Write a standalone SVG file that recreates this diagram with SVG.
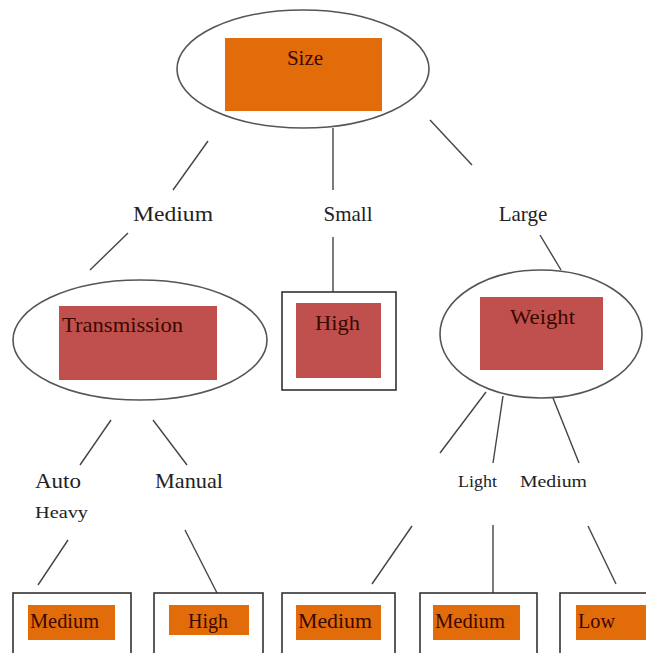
<svg xmlns="http://www.w3.org/2000/svg" width="646" height="653" viewBox="0 0 646 653" font-family="Liberation Serif, serif">
<style>
.ell{fill:#fff;stroke:#555;stroke-width:1.6}
.box{fill:#fff;stroke:#333;stroke-width:1.6}
.or{fill:#E36C0A}
.rd{fill:#C0504D}
.lbl{font-size:21px;fill:#222}
.sm{font-size:17px;fill:#222}
.in{font-size:21px;fill:#3a0800}
.con line{stroke:#444;stroke-width:1.4}
</style>
<rect width="646" height="653" fill="#fff"/>
<g class="con">
<line x1="208" y1="141" x2="173" y2="190"/>
<line x1="128" y1="233" x2="90" y2="270"/>
<line x1="333" y1="128" x2="333" y2="190"/>
<line x1="333" y1="237" x2="333" y2="292"/>
<line x1="430" y1="120" x2="472" y2="165"/>
<line x1="540" y1="235" x2="561" y2="270"/>
<line x1="111" y1="420" x2="80" y2="465"/>
<line x1="153" y1="420" x2="187" y2="465"/>
<line x1="68" y1="540" x2="38" y2="585"/>
<line x1="185" y1="530" x2="217" y2="593"/>
<line x1="486" y1="392" x2="440" y2="453"/>
<line x1="503" y1="396" x2="493" y2="463"/>
<line x1="553" y1="398" x2="579" y2="463"/>
<line x1="412" y1="526" x2="372" y2="584"/>
<line x1="493" y1="525" x2="493" y2="593"/>
<line x1="588" y1="526" x2="616" y2="584"/>
</g>
<g id="labels">
<text class="lbl" x="173" y="221" text-anchor="middle" textLength="80" lengthAdjust="spacingAndGlyphs">Medium</text>
<text class="lbl" x="348" y="221" text-anchor="middle">Small</text>
<text class="lbl" x="523" y="221" text-anchor="middle">Large</text>
<text class="lbl" x="35" y="488" textLength="46" lengthAdjust="spacingAndGlyphs">Auto</text>
<text class="lbl" x="155" y="488" textLength="68" lengthAdjust="spacingAndGlyphs">Manual</text>
<text class="sm" x="35" y="518" textLength="53" lengthAdjust="spacingAndGlyphs">Heavy</text>
<text class="sm" x="458" y="487" textLength="39" lengthAdjust="spacingAndGlyphs">Light</text>
<text class="sm" x="520" y="487" textLength="67" lengthAdjust="spacingAndGlyphs">Medium</text>
</g>
<g id="size">
<ellipse class="ell" cx="303" cy="69" rx="126" ry="59"/>
<rect class="or" x="225" y="38" width="157" height="73"/>
<text class="in" x="305" y="65" text-anchor="middle">Size</text>
</g>
<g id="transmission">
<ellipse class="ell" cx="140" cy="340" rx="127" ry="60"/>
<rect class="rd" x="59" y="306" width="158" height="74"/>
<text class="in" x="62" y="332" textLength="121" lengthAdjust="spacingAndGlyphs">Transmission</text>
</g>
<g id="high1">
<rect class="box" x="282" y="292" width="114" height="98"/>
<rect class="rd" x="296" y="303" width="85" height="75"/>
<text class="in" x="315" y="330" textLength="45" lengthAdjust="spacingAndGlyphs">High</text>
</g>
<g id="weight">
<ellipse class="ell" cx="541" cy="334" rx="101" ry="64"/>
<rect class="rd" x="480" y="297" width="123" height="73"/>
<text class="in" x="510" y="324" textLength="65" lengthAdjust="spacingAndGlyphs">Weight</text>
</g>
<g id="leaf1">
<rect class="box" x="13" y="593" width="118" height="70"/>
<rect class="or" x="28" y="605" width="87" height="35"/>
<text class="in" x="30" y="628" textLength="69" lengthAdjust="spacingAndGlyphs">Medium</text>
</g>
<g id="leaf2">
<rect class="box" x="154" y="593" width="109" height="70"/>
<rect class="or" x="169" y="605" width="80" height="30"/>
<text class="in" x="188" y="628" textLength="40" lengthAdjust="spacingAndGlyphs">High</text>
</g>
<g id="leaf3">
<rect class="box" x="282" y="593" width="113" height="70"/>
<rect class="or" x="296" y="605" width="85" height="35"/>
<text class="in" x="298" y="628" textLength="74" lengthAdjust="spacingAndGlyphs">Medium</text>
</g>
<g id="leaf4">
<rect class="box" x="420" y="593" width="117" height="70"/>
<rect class="or" x="433" y="605" width="87" height="35"/>
<text class="in" x="435" y="628" textLength="70" lengthAdjust="spacingAndGlyphs">Medium</text>
</g>
<g id="leaf5">
<rect class="box" x="560" y="593" width="100" height="70"/>
<rect class="or" x="576" y="605" width="75" height="35"/>
<text class="in" x="578" y="628" textLength="37" lengthAdjust="spacingAndGlyphs">Low</text>
</g>
</svg>
